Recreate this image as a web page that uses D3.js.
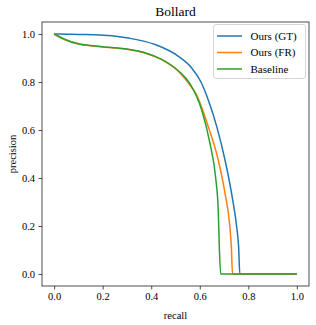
<!DOCTYPE html>
<html>
<head>
<meta charset="utf-8">
<script src="https://cdn.jsdelivr.net/npm/d3@7"></script>
<style>
  body { margin: 0; background: #fff; }
  svg { display: block; font-family: "Liberation Serif", "DejaVu Serif", serif; }
</style>
</head>
<body>
<svg id="chart" width="316" height="325"></svg>
<script>
// data
var seriesNames = ['Ours (GT)', 'Ours (FR)', 'Baseline']
var gtRecall = [0, 0.05, 0.1, 0.169, 0.306, 0.416, 0.512, 0.567, 0.605, 0.635, 0.67, 0.704, 0.731, 0.752, 0.76, 0.765, 1.0]
var gtPrecision = [1.0, 0.999, 0.998, 0.997, 0.983, 0.956, 0.907, 0.858, 0.8, 0.725, 0.614, 0.475, 0.336, 0.197, 0.114, 0, 0]
var frRecall = [0, 0.045, 0.1, 0.169, 0.306, 0.374, 0.443, 0.512, 0.553, 0.587, 0.635, 0.676, 0.704, 0.724, 0.73, 0.735, 1.0]
var frPrecision = [1.0, 0.976, 0.958, 0.949, 0.935, 0.921, 0.893, 0.845, 0.796, 0.745, 0.614, 0.475, 0.336, 0.197, 0.114, 0, 0]
var baseRecall = [0, 0.045, 0.1, 0.169, 0.306, 0.374, 0.443, 0.512, 0.56, 0.608, 0.642, 0.665, 0.676, 0.68, 0.686, 1.0]
var basePrecision = [1.0, 0.977, 0.959, 0.95, 0.936, 0.922, 0.894, 0.846, 0.792, 0.683, 0.544, 0.405, 0.267, 0.128, 0, 0]
var xTicks = [0, 0.2, 0.4, 0.6, 0.8, 1.0]
var yTicks = [0, 0.2, 0.4, 0.6, 0.8, 1.0]
var colors = ['#1f77b4', '#ff7f0e', '#2ca02c']

var svg = d3.select('#chart')
// plot box (window.top is reserved, so no plain "top")
var boxL = 42, boxR = 309, boxT = 22, boxB = 286

var x = d3.scaleLinear().domain([-0.05, 1.05]).range([boxL, boxR])
var y = d3.scaleLinear().domain([-0.05, 1.05]).range([boxB, boxT])

function zip(rs, ps) {
  return rs.map(function(r, i) { return [r, ps[i]] })
}
var series = [zip(gtRecall, gtPrecision), zip(frRecall, frPrecision), zip(baseRecall, basePrecision)]

var line = d3.line()
  .x(function(d) { return x(d[0]) })
  .y(function(d) { return y(d[1]) })
  .curve(d3.curveMonotoneX)

// curves
svg.append('g').selectAll('path')
  .data(series)
  .join('path')
  .attr('d', line)
  .attr('fill', 'none')
  .attr('stroke', function(d, i) { return colors[i] })
  .attr('stroke-width', 1.5)
  .attr('stroke-linejoin', 'round')

// axes
svg.append('g')
  .attr('transform', 'translate(0,' + boxB + ')')
  .call(d3.axisBottom(x).tickValues(xTicks).tickFormat(d3.format('.1f')).tickSizeOuter(0).tickSize(3.5).tickPadding(3.5))
svg.append('g')
  .attr('transform', 'translate(' + boxL + ',0)')
  .call(d3.axisLeft(y).tickValues(yTicks).tickFormat(d3.format('.1f')).tickSizeOuter(0).tickSize(3.5).tickPadding(3.5))
svg.selectAll('.domain').remove()
svg.selectAll('.tick line').attr('stroke', '#222').attr('stroke-width', 0.8)
svg.selectAll('.tick text').attr('font-family', 'Liberation Serif').attr('font-size', 10.5).attr('fill', '#000')

// frame
svg.append('rect')
  .attr('x', boxL).attr('y', boxT)
  .attr('width', boxR - boxL).attr('height', boxB - boxT)
  .attr('fill', 'none').attr('stroke', '#222').attr('stroke-width', 0.8)

// labels
svg.append('text').attr('x', (boxL + boxR) / 2).attr('y', 16)
  .attr('text-anchor', 'middle').attr('font-size', 13.5).text('Bollard')
svg.append('text').attr('x', (boxL + boxR) / 2).attr('y', 319)
  .attr('text-anchor', 'middle').attr('font-size', 10.5).text('recall')
svg.append('text').attr('transform', 'translate(16,' + ((boxT + boxB) / 2) + ') rotate(-90)')
  .attr('text-anchor', 'middle').attr('font-size', 10.5).text('precision')

// legend
var legend = svg.append('g')
legend.append('rect')
  .attr('x', 213.5).attr('y', 24.5).attr('width', 92).attr('height', 54)
  .attr('rx', 2.5).attr('fill', '#fff').attr('fill-opacity', 0.8)
  .attr('stroke', '#ccc').attr('stroke-width', 0.8)
var rows = legend.selectAll('g.row')
  .data(seriesNames)
  .join('g')
  .attr('transform', function(d, i) { return 'translate(0,' + (36 + i * 16.5) + ')' })
rows.append('line')
  .attr('x1', 217).attr('x2', 242)
  .attr('stroke', function(d, i) { return colors[i] })
  .attr('stroke-width', 1.5)
rows.append('text')
  .attr('x', 250.5).attr('y', 3.8)
  .attr('font-size', 11).text(function(d) { return d })
</script>
</body>
</html>
